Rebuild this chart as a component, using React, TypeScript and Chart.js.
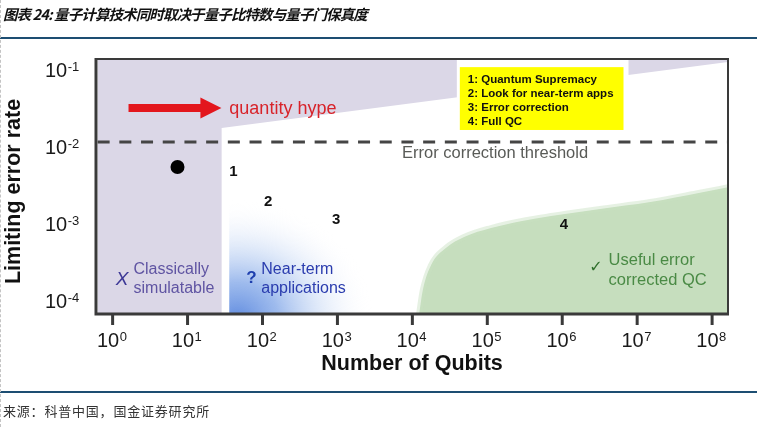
import React, { useEffect, useRef } from "react";
import { Chart, registerables } from "chart.js";

Chart.register(...registerables);

// ---------- data ----------
const X_EXPONENTS = [0, 1, 2, 3, 4, 5, 6, 7, 8];
const Y_EXPONENTS = [-1, -2, -3, -4];
const X_MIN = 0.631;
const X_MAX = 1.63e8;
const Y_MIN = 6.78e-5;
const Y_MAX = 0.139;

// classically simulatable region (lower boundary, filled to top)
const classicalX = [X_MIN, 28.5, 28.5, X_MAX];
const classicalY = [Y_MIN, Y_MIN, 0.01766, 0.127];

// useful error-corrected QC region (upper boundary, filled to bottom)
const usefulX = [1.23e4, 1.38e4, 1.78e4, 2.8e4, 4.9e4, 1.12e5, 2.8e5, 7.1e5, 3.2e6, 1.5e7, 6.9e7, X_MAX];
const usefulY = [Y_MIN, 1.39e-4, 2.94e-4, 4.88e-4, 6.78e-4, 8.87e-4, 1.09e-3, 1.27e-3, 1.57e-3, 1.93e-3, 2.55e-3, 3.0e-3];

// near-term region (blue glow)
const nearTermStartX = 36;
const nearTermCenterX = 46;

const thresholdY = 0.0116;
const currentQubits = [7.34];
const currentError = [5.5e-3];

const stageLabels = ["1", "2", "3", "4"];
const stageX = [40.8, 119, 960, 1.05e6];
const stageY = [4.73e-3, 1.93e-3, 1.13e-3, 9.7e-4];

const hypeArrowX = [1.63, 28.3];
const hypeArrowY = 0.0321;

const legendLines = ["1: Quantum Supremacy", "2: Look for near-term apps", "3: Error correction", "4: Full QC"];
const legendBoxX = [4.3e4, 6.57e6];
const legendBoxY = [0.01664, 0.109];

const TITLE = "图表 24: 量子计算技术同时取决于量子比特数与量子门保真度";
const SOURCE = "来源：科普中国，国金证券研究所";
const X_TITLE = "Number of Qubits";
const Y_TITLE = "Limiting error rate";

const FONT = '"Liberation Sans", Arial, Helvetica, sans-serif';

const pts = (xs: number[], ys: number[]) => xs.map((x, i) => ({ x, y: ys[i] }));

const overlay = {
  id: "overlay",
  beforeDatasetsDraw(chart: any) {
    const { ctx, chartArea: a, scales } = chart;
    const x = scales.x;
    const left = x.getPixelForValue(nearTermStartX);
    const cx = x.getPixelForValue(nearTermCenterX);
    const cy = a.bottom + 4;
    ctx.save();
    ctx.beginPath();
    ctx.rect(left, a.top, a.right - left, a.bottom - a.top);
    ctx.clip();
    ctx.translate(cx, cy);
    ctx.scale(1.15, 1);
    const g = ctx.createRadialGradient(0, 0, 0, 0, 0, 118);
    g.addColorStop(0, "rgba(90,135,222,0.95)");
    g.addColorStop(0.3, "rgba(120,160,230,0.72)");
    g.addColorStop(0.6, "rgba(175,200,240,0.4)");
    g.addColorStop(0.85, "rgba(225,233,248,0.15)");
    g.addColorStop(1, "rgba(255,255,255,0)");
    ctx.fillStyle = g;
    ctx.fillRect(-200, -200, 400, 400);
    ctx.restore();
  },
  afterDatasetsDraw(chart: any) {
    const { ctx, chartArea: a, scales } = chart;
    const x = scales.x;
    const y = scales.y;
    const px = (v: number) => x.getPixelForValue(v);
    const py = (v: number) => y.getPixelForValue(v);
    ctx.save();

    // legend box
    const bl = px(legendBoxX[0]);
    const br = px(legendBoxX[1]);
    const bt = py(legendBoxY[1]);
    const bb = py(legendBoxY[0]);
    ctx.fillStyle = "#ffffff";
    ctx.fillRect(bl - 3, a.top, br - bl + 8, bb - a.top + 3);
    ctx.fillStyle = "#ffff00";
    ctx.fillRect(bl, bt, br - bl, bb - bt);
    ctx.fillStyle = "#111";
    ctx.font = `bold 11.5px ${FONT}`;
    ctx.textAlign = "left";
    ctx.textBaseline = "alphabetic";
    legendLines.forEach((t, i) => ctx.fillText(t, bl + 8, bt + 16 + i * 13.8));

    // hype arrow
    const ax0 = px(hypeArrowX[0]);
    const ax1 = px(hypeArrowX[1]);
    const ay = py(hypeArrowY);
    ctx.fillStyle = "#e3161d";
    ctx.beginPath();
    ctx.moveTo(ax0, ay - 4);
    ctx.lineTo(ax1 - 21, ay - 4);
    ctx.lineTo(ax1 - 21, ay - 10.5);
    ctx.lineTo(ax1, ay);
    ctx.lineTo(ax1 - 21, ay + 10.5);
    ctx.lineTo(ax1 - 21, ay + 4);
    ctx.lineTo(ax0, ay + 4);
    ctx.closePath();
    ctx.fill();
    ctx.fillStyle = "#d8232a";
    ctx.font = `18px ${FONT}`;
    ctx.fillText("quantity hype", px(36.1), py(0.0268));

    // threshold label
    ctx.fillStyle = "#595b57";
    ctx.font = `16.5px ${FONT}`;
    ctx.fillText("Error correction threshold", px(7270), py(7.2e-3));

    // stage numbers
    ctx.fillStyle = "#111";
    ctx.font = `bold 15px ${FONT}`;
    ctx.textAlign = "center";
    ctx.textBaseline = "middle";
    stageLabels.forEach((t, i) => ctx.fillText(t, px(stageX[i]), py(stageY[i])));

    // region labels
    ctx.textAlign = "left";
    ctx.textBaseline = "alphabetic";
    ctx.fillStyle = "#3d3896";
    ctx.font = `italic 19px ${FONT}`;
    ctx.fillText("X", px(1.1), py(1.61e-4));
    ctx.fillStyle = "#5f54a2";
    ctx.font = `16px ${FONT}`;
    ctx.fillText("Classically", px(1.9), py(2.24e-4));
    ctx.fillText("simulatable", px(1.9), py(1.27e-4));

    ctx.fillStyle = "#1e3fae";
    ctx.font = `bold 17px ${FONT}`;
    ctx.fillText("?", px(60.8), py(1.71e-4));
    ctx.fillStyle = "#2a3cae";
    ctx.font = `16px ${FONT}`;
    ctx.fillText("Near-term", px(96.4), py(2.24e-4));
    ctx.fillText("applications", px(96.4), py(1.27e-4));

    ctx.fillStyle = "#2f6f2c";
    ctx.font = `16px "DejaVu Sans", ${FONT}`;
    ctx.fillText("✓", px(2.3e6), py(2.38e-4));
    ctx.fillStyle = "#4a8a45";
    ctx.font = `16.5px ${FONT}`;
    ctx.fillText("Useful error", px(4.15e6), py(2.94e-4));
    ctx.fillText("corrected QC", px(4.15e6), py(1.61e-4));
    ctx.restore();
  },
  afterDraw(chart: any) {
    const { ctx, chartArea: a, scales } = chart;
    const x = scales.x;
    const y = scales.y;
    ctx.save();
    // frame
    ctx.strokeStyle = "#3a3a3a";
    ctx.lineWidth = 2;
    ctx.beginPath();
    ctx.moveTo(a.left, a.top);
    ctx.lineTo(a.right, a.top);
    ctx.lineTo(a.right, a.bottom);
    ctx.stroke();
    ctx.lineWidth = 3;
    ctx.beginPath();
    ctx.moveTo(a.left, a.top - 1);
    ctx.lineTo(a.left, a.bottom);
    ctx.lineTo(a.right + 1, a.bottom);
    ctx.stroke();

    // x ticks
    ctx.fillStyle = "#1a1a1a";
    X_EXPONENTS.forEach((e) => {
      const p = x.getPixelForValue(Math.pow(10, e));
      ctx.strokeStyle = "#3a3a3a";
      ctx.lineWidth = 3;
      ctx.beginPath();
      ctx.moveTo(p, a.bottom);
      ctx.lineTo(p, a.bottom + 11);
      ctx.stroke();
      ctx.font = `20px ${FONT}`;
      const w1 = ctx.measureText("10").width;
      ctx.font = `13px ${FONT}`;
      const s = String(e);
      const w2 = ctx.measureText(s).width;
      const x0 = p - (w1 + w2) / 2 - 1;
      ctx.textAlign = "left";
      ctx.textBaseline = "alphabetic";
      ctx.font = `20px ${FONT}`;
      ctx.fillText("10", x0, a.bottom + 33);
      ctx.font = `13px ${FONT}`;
      ctx.fillText(s, x0 + w1 + 0.5, a.bottom + 27);
    });

    // y ticks
    Y_EXPONENTS.forEach((e) => {
      const p = y.getPixelForValue(Math.pow(10, e));
      ctx.textAlign = "left";
      ctx.textBaseline = "alphabetic";
      ctx.font = `20px ${FONT}`;
      const w1 = ctx.measureText("10").width;
      ctx.fillText("10", 45, p + 7);
      ctx.font = `13px ${FONT}`;
      ctx.fillText(String(e), 45 + w1 + 0.5, p + 0.5);
    });

    // axis titles
    ctx.fillStyle = "#111";
    ctx.font = `bold 21.5px ${FONT}`;
    ctx.textAlign = "center";
    ctx.textBaseline = "alphabetic";
    ctx.fillText(X_TITLE, (a.left + a.right) / 2, a.bottom + 56);
    ctx.save();
    ctx.translate(14, (a.top + a.bottom) / 2 + 5);
    ctx.rotate(-Math.PI / 2);
    ctx.textBaseline = "middle";
    ctx.fillText(Y_TITLE, 0, 0);
    ctx.restore();
    ctx.restore();
  },
};

export default function App() {
  const ref = useRef<HTMLCanvasElement | null>(null);
  useEffect(() => {
    if (!ref.current) return;
    const chart = new Chart(ref.current, {
      type: "line",
      data: {
        datasets: [
          {
            label: "current",
            data: pts(currentQubits, currentError),
            showLine: false,
            pointRadius: 7,
            pointBackgroundColor: "#000",
            pointBorderWidth: 0,
            order: 0,
          },
          {
            label: "threshold",
            data: [
              { x: X_MIN, y: thresholdY },
              { x: X_MAX, y: thresholdY },
            ],
            borderColor: "#454545",
            borderWidth: 3,
            borderDash: [12, 9.7],
            pointRadius: 0,
            fill: false,
            order: 1,
          },
          {
            label: "useful",
            data: pts(usefulX, usefulY),
            borderColor: "rgba(200,223,192,0.45)",
            borderWidth: 6,
            backgroundColor: "#c6debe",
            fill: "start",
            pointRadius: 0,
            cubicInterpolationMode: "monotone",
            clip: 0,
            order: 2,
          },
          {
            label: "classical",
            data: pts(classicalX, classicalY),
            borderWidth: 0,
            borderColor: "rgba(0,0,0,0)",
            backgroundColor: "#dbd7e7",
            fill: "end",
            pointRadius: 0,
            clip: 0,
            order: 3,
          },
        ],
      },
      options: {
        responsive: false,
        animation: false,
        events: [],
        layout: { padding: { top: 59, right: 29, left: 0, bottom: 0 } },
        plugins: { legend: { display: false }, tooltip: { enabled: false }, title: { display: false } },
        scales: {
          x: {
            type: "logarithmic",
            min: X_MIN,
            max: X_MAX,
            grid: { display: false },
            border: { display: false },
            ticks: { display: false },
            afterFit: (s: any) => {
              s.height = 113;
            },
          },
          y: {
            type: "logarithmic",
            min: Y_MIN,
            max: Y_MAX,
            grid: { display: false },
            border: { display: false },
            ticks: { display: false },
            afterFit: (s: any) => {
              s.width = 96;
            },
          },
        },
      } as any,
      plugins: [overlay],
    });
    return () => chart.destroy();
  }, []);

  return (
    <div style={{ position: "fixed", left: 0, top: 0, width: 757, height: 427, background: "#fff", overflow: "hidden" }}>
      <canvas ref={ref} width={757} height={427} style={{ position: "absolute", left: 0, top: 0, display: "block" }} />
      <div
        style={{
          position: "absolute",
          left: 3,
          top: 3,
          font: 'italic bold 14.5px "Noto Sans CJK SC", sans-serif',
          color: "#111",
          whiteSpace: "nowrap",
          letterSpacing: "-0.9px",
        }}
      >
        {TITLE}
      </div>
      <div style={{ position: "absolute", left: 0, top: 37, width: 757, height: 2, background: "#1d4e72" }} />
      <div style={{ position: "absolute", left: 0, top: 391, width: 757, height: 2, background: "#1d4e72" }} />
      <div
        style={{
          position: "absolute",
          left: 3,
          top: 401,
          font: '13px "Noto Sans CJK SC", sans-serif',
          color: "#333",
          whiteSpace: "nowrap",
          letterSpacing: "0.8px",
        }}
      >
        {SOURCE}
      </div>
      <div style={{ position: "absolute", left: 0, top: 0, width: 0, height: 427, borderLeft: "1px dashed #c4c4c4" }} />
    </div>
  );
}
